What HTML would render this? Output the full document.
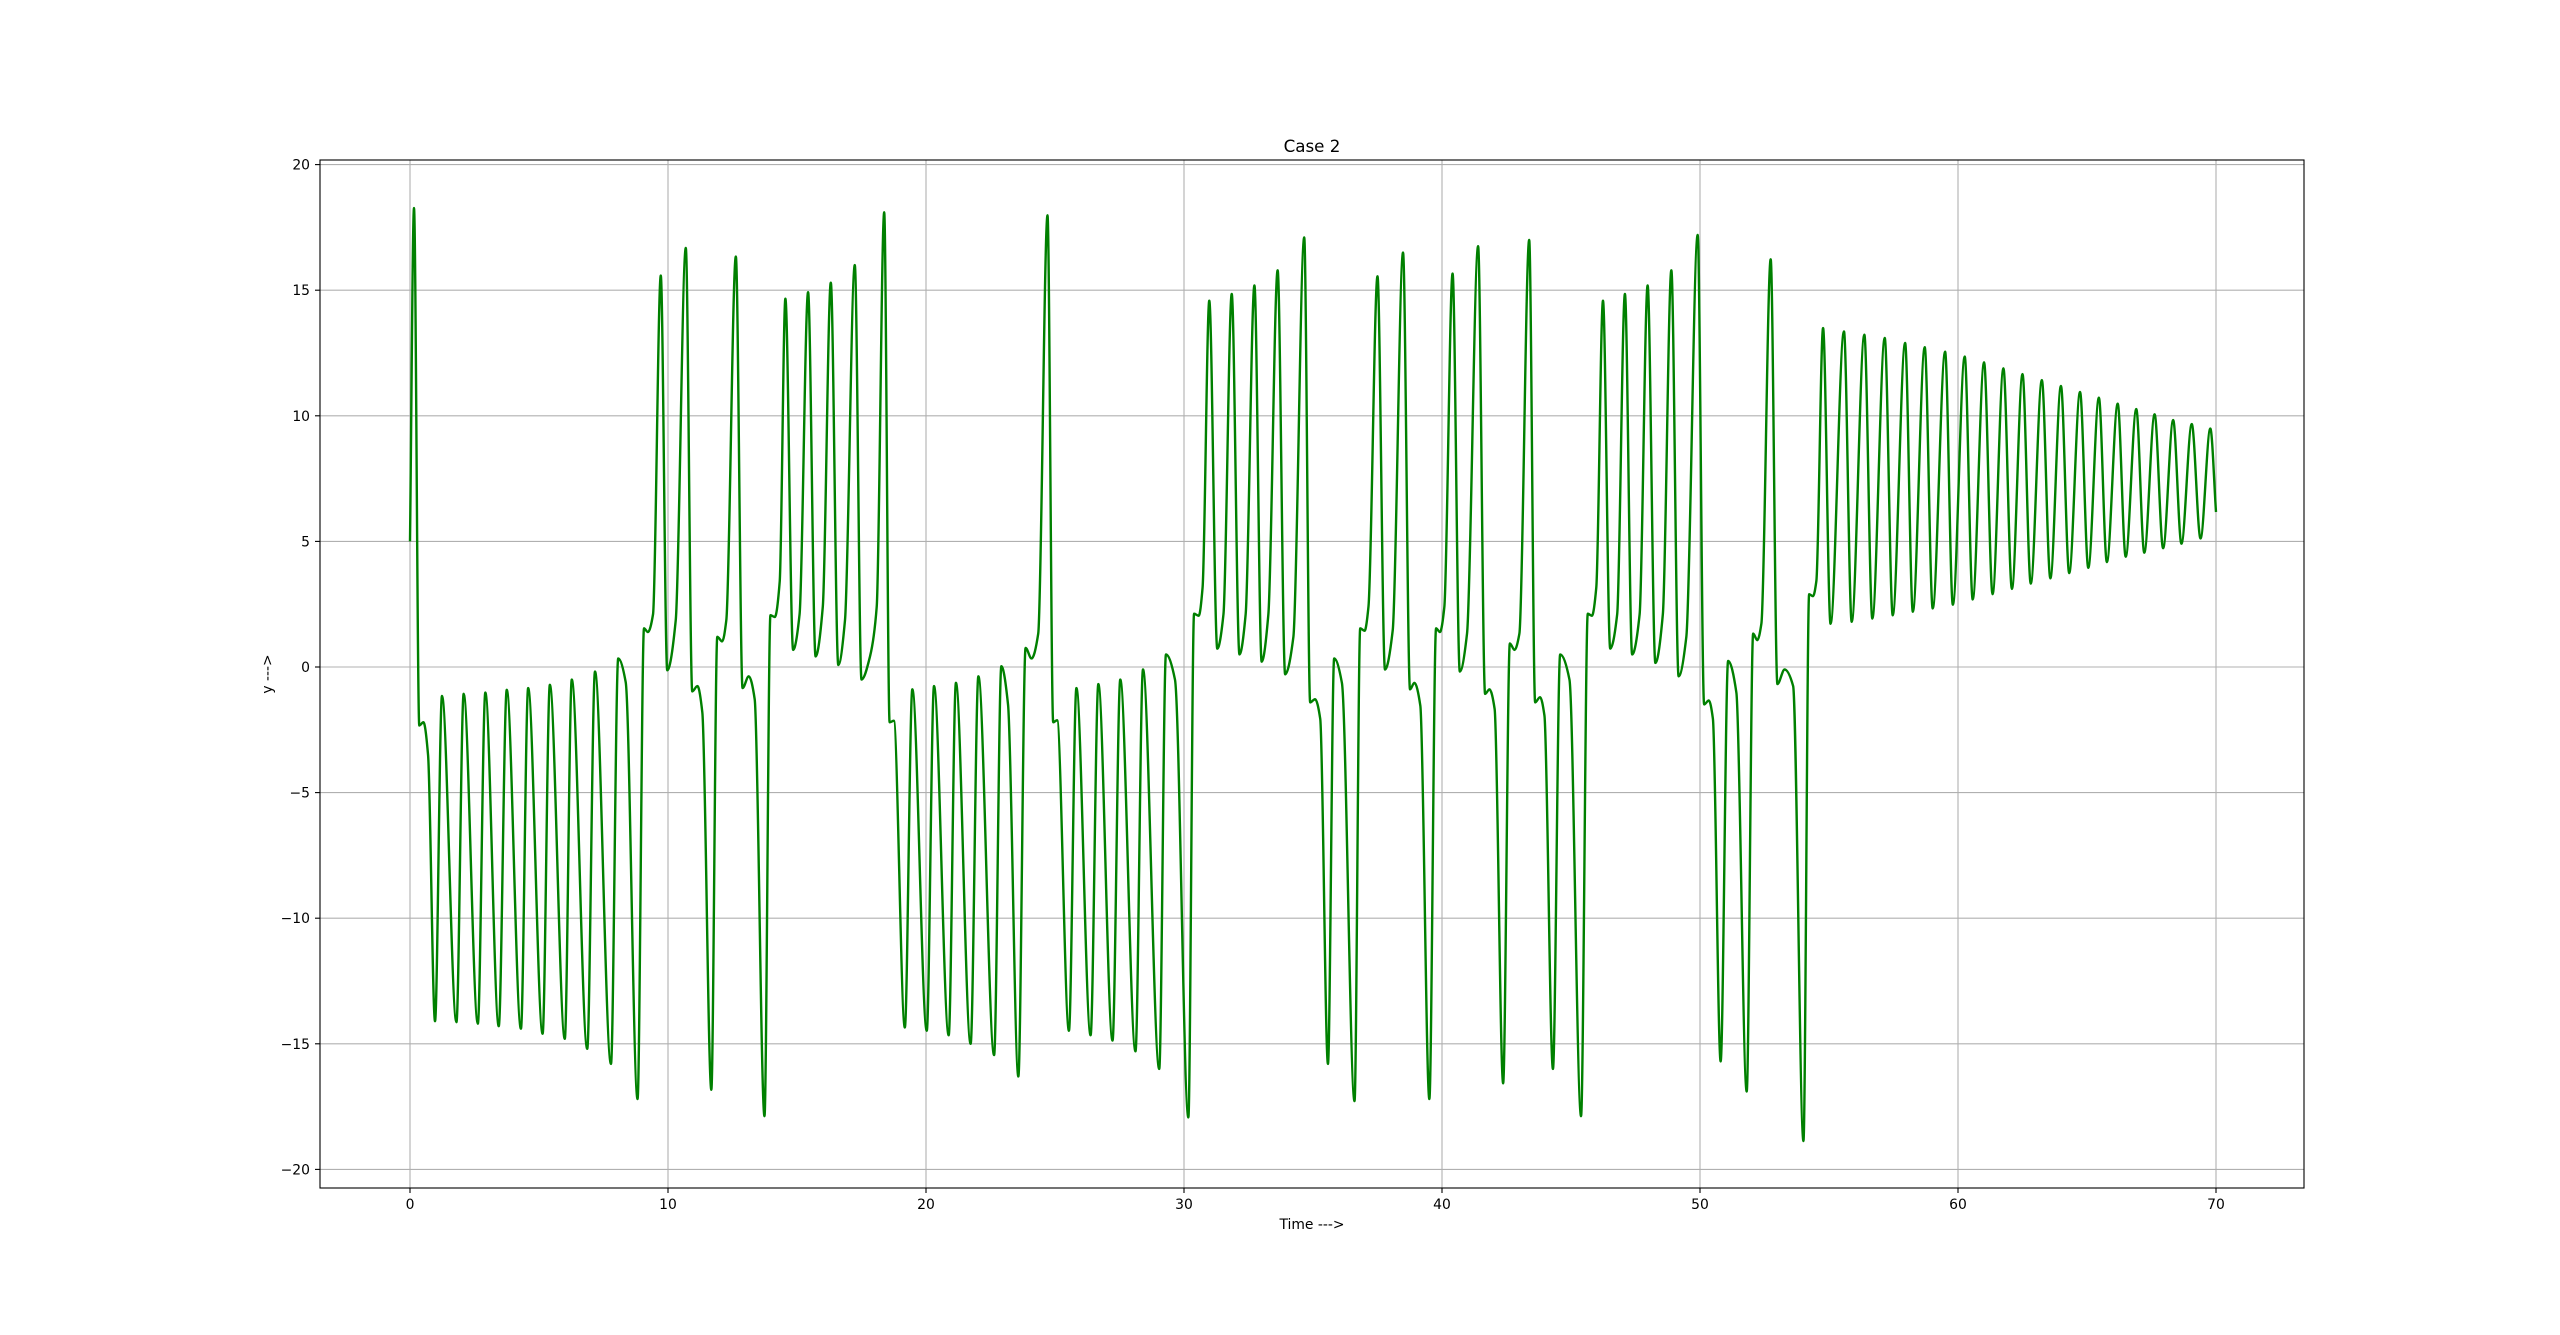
<!DOCTYPE html>
<html><head><meta charset="utf-8"><style>
html,body{margin:0;padding:0;background:#fff;}
svg{display:block;font-family:"DejaVu Sans","Liberation Sans",sans-serif;}
</style></head><body>
<svg id="chart" width="2560" height="1335" viewBox="0 0 2560 1335" xmlns="http://www.w3.org/2000/svg">
<rect width="2560" height="1335" fill="#fff"/>
<g id="grid"></g>
<g id="series"></g>
<rect x="320" y="160" width="1984" height="1028" fill="none" stroke="#000" stroke-width="1.1"/>
<g id="ticks"></g>
<text x="1312" y="152" text-anchor="middle" font-size="16.7" fill="#000">Case 2</text>
<text x="1312" y="1229" text-anchor="middle" font-size="13.9" fill="#000">Time ---&gt;</text>
<text x="272" y="674" text-anchor="middle" font-size="13.9" fill="#000" transform="rotate(-90 272 674)">y ---&gt;</text>
</svg>
<script>
const xTicks = [0, 10, 20, 30, 40, 50, 60, 70];
const yTicks = [-20, -15, -10, -5, 0, 5, 10, 15, 20];
const times = [0,0.155,0.36,0.52,0.7,0.97,1.24,1.80,2.08,2.63,2.92,3.44,3.75,4.30,4.58,5.14,5.42,6.0,6.27,6.87,7.17,7.79,8.07,8.36,8.82,9.07,9.22,9.42,9.72,9.97,10.3,10.69,10.94,11.14,11.33,11.68,11.91,12.1,12.26,12.63,12.89,13.13,13.36,13.74,13.97,14.14,14.33,14.55,14.85,15.1,15.43,15.72,16.0,16.31,16.6,16.86,17.24,17.5,17.83,18.09,18.38,18.59,18.75,19.18,19.47,20.03,20.31,20.88,21.16,21.73,22.03,22.64,22.92,23.18,23.58,23.86,24.09,24.35,24.71,24.93,25.08,25.54,25.83,26.38,26.68,27.23,27.53,28.12,28.41,29.04,29.3,29.65,30.17,30.39,30.57,30.72,30.98,31.29,31.53,31.85,32.15,32.39,32.73,33.01,33.27,33.63,33.92,34.24,34.66,34.89,35.08,35.28,35.58,35.82,36.12,36.61,36.83,37.0,37.15,37.5,37.79,38.09,38.49,38.76,38.93,39.16,39.51,39.77,39.92,40.09,40.41,40.69,40.97,41.4,41.67,41.84,42.04,42.37,42.63,42.81,43.0,43.38,43.61,43.8,43.97,44.3,44.58,44.94,45.39,45.65,45.81,45.98,46.24,46.52,46.79,47.09,47.37,47.66,47.97,48.27,48.56,48.89,49.17,49.47,49.91,50.16,50.34,50.5,50.8,51.09,51.41,51.81,52.06,52.22,52.38,52.74,53.0,53.28,53.61,54.01,54.23,54.38,54.51,54.77,55.06,55.58,55.88,56.37,56.68,57.16,57.47,57.95,58.25,58.71,59.02,59.5,59.8,60.26,60.57,61.01,61.34,61.76,62.09,62.5,62.82,63.25,63.58,63.99,64.31,64.73,65.05,65.46,65.77,66.19,66.5,66.91,67.22,67.62,67.95,68.34,68.66,69.06,69.4,69.78,70];
const yValues = [5.0,18.27,-2.33,-2.2,-3.5,-14.1,-1.15,-14.14,-1.07,-14.2,-1.02,-14.3,-0.91,-14.4,-0.84,-14.6,-0.71,-14.8,-0.5,-15.2,-0.18,-15.8,0.34,-0.6,-17.2,1.54,1.39,2.1,15.58,-0.13,1.86,16.68,-0.97,-0.76,-1.8,-16.83,1.2,1.02,1.86,16.34,-0.84,-0.37,-1.28,-17.88,2.06,1.99,3.4,14.66,0.68,2.1,14.92,0.42,2.4,15.3,0.08,1.86,16.0,-0.5,0.42,2.4,18.1,-2.2,-2.14,-14.35,-0.89,-14.48,-0.76,-14.66,-0.63,-15.0,-0.37,-15.45,0.03,-1.5,-16.3,0.76,0.34,1.33,17.98,-2.2,-2.12,-14.48,-0.84,-14.66,-0.68,-14.87,-0.5,-15.3,-0.1,-16.0,0.5,-0.5,-17.93,2.12,2.04,3.16,14.58,0.73,2.1,14.85,0.5,2.1,15.19,0.21,2.1,15.79,-0.29,1.2,17.1,-1.41,-1.28,-2.06,-15.8,0.34,-0.63,-17.28,1.54,1.44,2.4,15.55,-0.1,1.46,16.5,-0.89,-0.63,-1.54,-17.2,1.54,1.39,2.38,15.66,-0.18,1.33,16.75,-1.07,-0.89,-1.67,-16.57,0.94,0.68,1.33,17.0,-1.41,-1.2,-1.93,-16.0,0.5,-0.5,-17.88,2.12,2.04,3.16,14.58,0.73,2.1,14.85,0.5,2.1,15.19,0.16,2.1,15.79,-0.37,1.2,17.2,-1.49,-1.33,-2.06,-15.7,0.24,-1.02,-16.9,1.33,1.07,1.73,16.23,-0.68,-0.1,-0.76,-18.87,2.9,2.82,3.42,13.49,1.72,13.36,1.8,13.23,1.93,13.1,2.06,12.9,2.2,12.73,2.33,12.55,2.48,12.36,2.69,12.13,2.9,11.89,3.11,11.66,3.32,11.42,3.53,11.19,3.74,10.95,3.95,10.72,4.18,10.48,4.39,10.27,4.55,10.06,4.73,9.83,4.91,9.67,5.12,9.49,6.17];

const X0 = 410, XS = 25.8, Y0 = 667, YS = 25.12;
function xScale(t){ return X0 + t * XS; }
function yScale(v){ return Y0 - v * YS; }
const NS = 'http://www.w3.org/2000/svg';
const grid = document.getElementById('grid');
const ticks = document.getElementById('ticks');

xTicks.forEach(function(t){
  const x = xScale(t);
  const gl = document.createElementNS(NS, 'line');
  gl.setAttribute('x1', x); gl.setAttribute('x2', x); gl.setAttribute('y1', 160); gl.setAttribute('y2', 1188);
  gl.setAttribute('stroke', '#b0b0b0'); gl.setAttribute('stroke-width', '1.1');
  
  
  grid.appendChild(gl);
  const tk = document.createElementNS(NS, 'line');
  tk.setAttribute('x1', x); tk.setAttribute('x2', x); tk.setAttribute('y1', 1188); tk.setAttribute('y2', 1193);
  tk.setAttribute('stroke', '#000'); tk.setAttribute('stroke-width', '1.1');
  
  
  ticks.appendChild(tk);
  const lb = document.createElementNS(NS, 'text');
  lb.setAttribute('x', x); lb.setAttribute('y', 1209); lb.setAttribute('text-anchor', 'middle'); lb.setAttribute('font-size', '13.9');
  lb.textContent = String(t);
  
  
  ticks.appendChild(lb);
});
yTicks.forEach(function(v){
  const y = yScale(v);
  const gl = document.createElementNS(NS, 'line');
  gl.setAttribute('x1', 320); gl.setAttribute('x2', 2304); gl.setAttribute('y1', y); gl.setAttribute('y2', y);
  gl.setAttribute('stroke', '#b0b0b0'); gl.setAttribute('stroke-width', '1.1');
  
  
  grid.appendChild(gl);
  const tk = document.createElementNS(NS, 'line');
  tk.setAttribute('x1', 315); tk.setAttribute('x2', 320); tk.setAttribute('y1', y); tk.setAttribute('y2', y);
  tk.setAttribute('stroke', '#000'); tk.setAttribute('stroke-width', '1.1');
  
  
  ticks.appendChild(tk);
  const lb = document.createElementNS(NS, 'text');
  lb.setAttribute('x', 310); lb.setAttribute('y', y + 5); lb.setAttribute('text-anchor', 'end'); lb.setAttribute('font-size', '13.9');
  lb.textContent = v < 0 ? '\u2212' + Math.abs(v) : String(v);
  
  
  ticks.appendChild(lb);
});

// monotone cubic path through points
const px = times.map(xScale), py = yValues.map(yScale);
const n = px.length;
const dx = [], sl = [];
for (let i = 0; i < n - 1; i++){ dx.push(px[i+1]-px[i]); sl.push((py[i+1]-py[i])/(px[i+1]-px[i])); }
const m = new Array(n);
m[0] = sl[0]; m[n-1] = sl[n-2];
for (let i = 1; i < n - 1; i++){
  if (sl[i-1] * sl[i] <= 0) m[i] = 0;
  else { const w1 = 2*dx[i]+dx[i-1], w2 = dx[i]+2*dx[i-1]; m[i] = (w1+w2)/(w1/sl[i-1]+w2/sl[i]); }
}
let d = 'M' + px[0].toFixed(2) + ',' + py[0].toFixed(2);
for (let i = 0; i < n - 1; i++){
  const h = dx[i] / 3;
  d += 'C' + (px[i]+h).toFixed(2) + ',' + (py[i]+m[i]*h).toFixed(2) + ' ' + (px[i+1]-h).toFixed(2) + ',' + (py[i+1]-m[i+1]*h).toFixed(2) + ' ' + px[i+1].toFixed(2) + ',' + py[i+1].toFixed(2);
}
const line = document.createElementNS(NS, 'path');
line.setAttribute('d', d);
line.setAttribute('fill', 'none'); line.setAttribute('stroke', '#008000'); line.setAttribute('stroke-width', '2.4');
line.setAttribute('stroke-linejoin', 'round');


document.getElementById('series').appendChild(line);
</script>
</body></html>
